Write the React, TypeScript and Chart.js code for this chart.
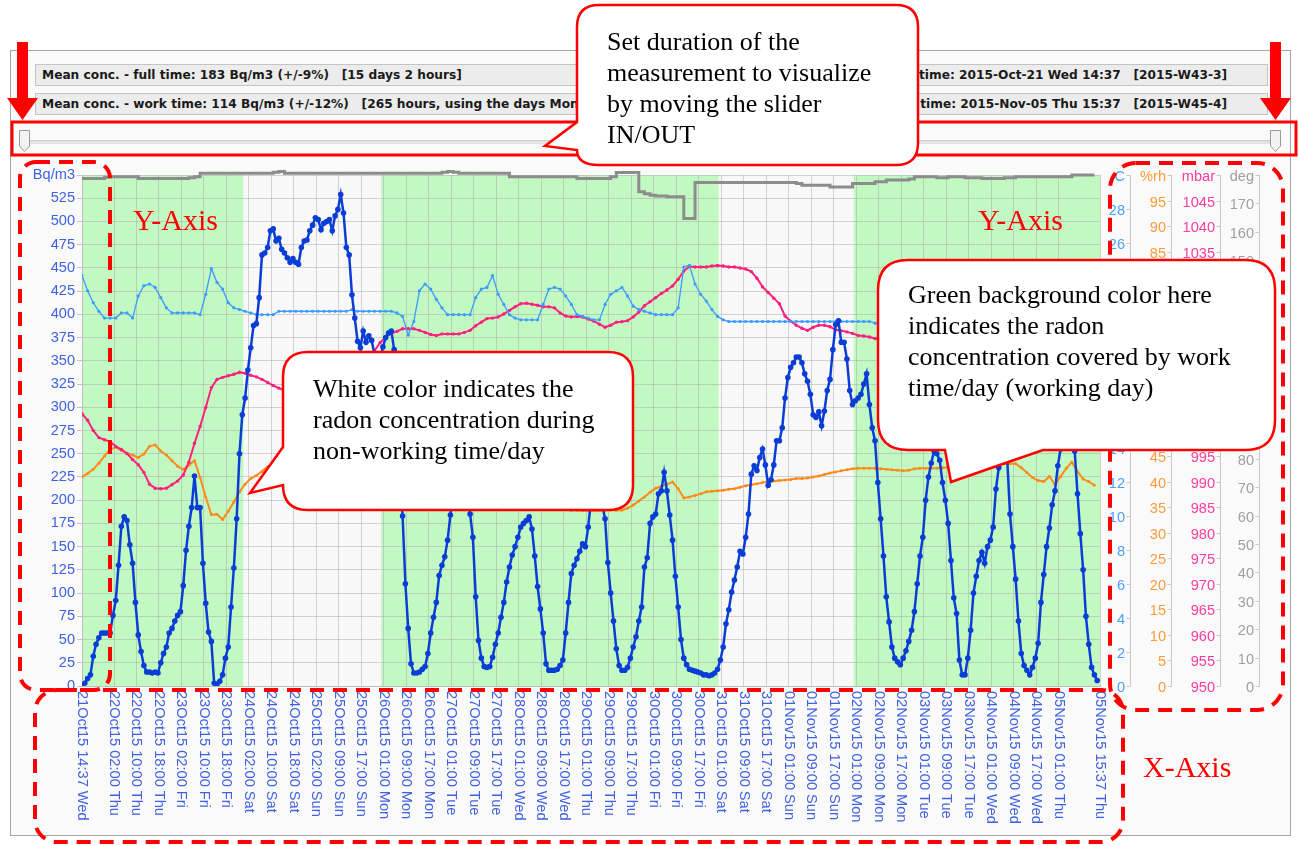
import React, { useEffect, useRef } from 'react';
import { Chart, registerables } from 'chart.js';

Chart.register(...registerables);

// Radon concentration, hourly from 2015-Oct-21 14:37 (Bq/m3)
const radonBq: number[] = [
  0, 3, 8, 12, 32, 45, 52, 57, 57, 57,
  57, 76, 92, 130, 172, 182, 178, 152, 132, 90,
  55, 37, 22, 15, 15, 14, 15, 14, 25, 35,
  42, 57, 62, 70, 76, 80, 108, 146, 172, 192,
  226, 192, 192, 132, 89, 58, 48, 3, 2, 5,
  12, 30, 42, 85, 127, 180, 250, 292, 310, 340,
  364, 388, 390, 418, 464, 466, 472, 490, 492, 479,
  482, 470, 466, 461, 456, 460, 456, 454, 472, 479,
  480, 490, 496, 504, 502, 491, 498, 500, 502, 490,
  506, 513, 529, 509, 472, 464, 421, 396, 371, 364,
  382, 370, 377, 372, 357, 353, 352, 365, 375, 380,
  382, 362, 300, 230, 183, 110, 62, 24, 14, 14,
  15, 18, 21, 35, 57, 74, 90, 119, 130, 139,
  157, 184, 210, 232, 245, 248, 240, 215, 185, 160,
  96, 49, 30, 21, 20, 21, 31, 45, 57, 74,
  90, 112, 128, 141, 150, 160, 171, 175, 178, 182,
  169, 140, 107, 83, 57, 24, 17, 17, 17, 18,
  22, 28, 57, 90, 121, 130, 137, 145, 153, 150,
  171, 200, 225, 235, 225, 195, 180, 133, 100, 70,
  40, 22, 17, 17, 20, 30, 42, 53, 70, 85,
  128, 138, 175, 182, 185, 207, 210, 230, 210, 184,
  157, 118, 85, 50, 30, 23, 18, 17, 16, 15,
  14, 12, 12, 11, 12, 14, 18, 28, 42, 67,
  82, 101, 114, 128, 145, 142, 160, 185, 228, 237,
  232, 246, 255, 238, 216, 222, 238, 264, 264, 278,
  310, 332, 343, 348, 354, 354, 348, 336, 328, 314,
  292, 289, 295, 280, 296, 318, 330, 362, 389, 393,
  370, 370, 352, 318, 303, 307, 310, 314, 325, 336,
  303, 278, 264, 219, 180, 140, 96, 69, 42, 30,
  26, 23, 30, 38, 48, 60, 80, 110, 140, 160,
  200, 225, 240, 253, 250, 243, 219, 200, 175, 135,
  95, 78, 28, 12, 12, 30, 60, 100, 118, 135,
  144, 132, 150, 157, 171, 212, 235, 248, 252, 245,
  185, 150, 115, 70, 35, 22, 17, 12, 20, 30,
  46, 90, 120, 150, 170, 195, 210, 237, 255, 262,
  265, 262, 258, 253, 207, 164, 125, 75, 45, 20,
  12, 6,
];

// Temperature every 2 hours (C)
const temperatureC: number[] = [
  24.1, 23.2, 22.5, 22.0, 21.6, 21.6, 21.6, 21.9, 21.9, 21.6,
  22.9, 23.5, 23.6, 23.4, 22.8, 22.2, 21.9, 21.9, 21.9, 21.9,
  21.9, 21.8, 23.0, 24.5, 23.7, 23.3, 22.5, 22.2, 22.1, 22.0,
  21.9, 21.8, 21.8, 21.8, 21.8, 22.0, 22.0, 22.0, 22.0, 22.0,
  22.0, 22.0, 22.0, 22.0, 22.0, 22.0, 22.0, 22.0, 22.1, 22.0,
  22.0, 22.0, 22.0, 22.0, 22.0, 22.0, 21.9, 21.7, 20.6, 21.4,
  23.2, 23.6, 23.3, 22.7, 22.2, 21.8, 21.8, 21.8, 21.8, 21.8,
  22.8, 23.3, 23.4, 24.1, 23.0, 22.4, 21.8, 21.6, 21.5, 21.5,
  21.5, 21.5, 22.4, 23.3, 23.4, 23.3, 22.9, 22.4, 21.8, 21.7,
  21.6, 21.5, 21.5, 22.4, 23.0, 23.2, 23.4, 22.9, 22.3, 22.1,
  22.0, 21.9, 21.8, 21.8, 21.8, 21.8, 22.2, 24.6, 24.7, 23.6,
  23.0, 22.6, 22.1, 21.7, 21.5, 21.4, 21.4, 21.4, 21.4, 21.4,
  21.4, 21.4, 21.4, 21.4, 21.4, 21.4, 21.4, 21.4, 21.4, 21.4,
  21.4, 21.4, 21.4, 21.4, 21.4, 21.4, 21.4, 21.4, 21.4, 21.4,
  21.4, 21.3, 21.2, 21.2, 21.2, 21.3, 21.3, 21.2, 21.2, 21.2,
  21.2, 21.3, 21.3, 21.2, 21.2, 21.2, 21.2, 21.1, 21.1, 21.2,
  21.2, 21.2, 21.3, 21.3, 21.2, 21.2, 21.1, 21.1, 21.1, 21.2,
  21.2, 21.2, 21.2, 21.1, 21.1, 21.1, 21.1, 21.2, 21.2, 21.2,
  21.2,
];

// Relative humidity every 2 hours (%rh)
const humidityRh: number[] = [
  40.9, 41.6, 42.4, 43.6, 45.0, 46.3, 46.7, 46.1, 45.5, 45.2,
  44.7, 45.4, 46.9, 47.2, 46.0, 45.2, 44.1, 43.0, 42.4, 43.2,
  44.1, 40.8, 37.0, 33.5, 33.6, 32.6, 34.2, 36.0, 38.0, 39.5,
  40.6, 41.2, 42.0, 42.9, 43.3, 43.6, 43.8, 44.0, 44.1, 44.0,
  43.8, 43.5, 43.2, 42.8, 42.4, 42.0, 41.6, 41.2, 40.8, 40.4,
  40.0, 39.7, 39.4, 39.1, 38.8, 38.5, 38.2, 38.0, 37.8, 37.6,
  37.4, 37.2, 37.0, 36.8, 36.7, 36.6, 36.5, 36.4, 36.3, 36.2,
  36.1, 36.0, 35.9, 35.8, 35.7, 35.6, 35.5, 35.4, 35.3, 35.2,
  35.1, 35.0, 34.9, 34.8, 34.7, 34.6, 34.5, 34.4, 34.4, 34.3,
  34.3, 34.3, 34.3, 34.4, 34.4, 34.4, 34.4, 34.8, 35.4, 36.2,
  37.0, 37.9, 38.7, 39.1, 39.5, 39.9, 38.6, 36.8, 37.0, 37.3,
  37.6, 38.0, 38.1, 38.2, 38.3, 38.5, 38.6, 38.9, 39.2, 39.4,
  39.6, 39.8, 40.0, 40.1, 40.2, 40.3, 40.4, 40.6, 40.6, 40.7,
  40.9, 41.1, 41.4, 41.7, 41.9, 42.1, 42.3, 42.5, 42.6, 42.6,
  42.6, 42.6, 42.5, 42.4, 42.3, 42.2, 42.1, 42.2, 42.5, 42.6,
  42.6, 42.6, 42.6, 42.7, 42.8, 42.9, 43.0, 43.0, 43.1, 43.2,
  43.2, 43.3, 43.4, 43.4, 43.5, 43.5, 43.5, 42.7, 41.8, 40.8,
  40.2, 40.0, 41.0, 39.4, 41.0, 42.6, 43.8, 42.0, 40.5, 40.0,
  39.3,
];

// Air pressure every 2 hours (mbar)
const pressureMbar: number[] = [
  1003.3, 1002.0, 1000.0, 998.6, 998.2, 997.8, 996.9, 996.3, 995.5, 994.3,
  993.3, 991.8, 989.5, 988.7, 988.6, 988.7, 989.4, 990.1, 991.3, 993.8,
  997.5, 1000.8, 1004.5, 1008.4, 1010.0, 1010.4, 1010.7, 1011.0, 1011.4, 1011.2,
  1010.8, 1010.5, 1010.0, 1009.4, 1008.8, 1008.3, 1007.8, 1007.3, 1007.0, 1006.8,
  1006.8, 1007.0, 1007.5, 1008.2, 1009.0, 1010.0, 1011.0, 1012.0, 1012.8, 1013.6,
  1014.3, 1015.0, 1015.6, 1017.2, 1018.3, 1019.0, 1019.4, 1019.9, 1019.9, 1019.9,
  1019.6, 1019.2, 1018.8, 1018.6, 1018.9, 1018.9, 1018.9, 1018.9, 1019.2, 1019.6,
  1020.5, 1021.2, 1021.9, 1022.0, 1022.2, 1022.8, 1023.5, 1024.2, 1024.8, 1024.9,
  1024.7, 1024.5, 1024.2, 1024.2, 1024.0, 1023.0, 1022.4, 1022.2, 1022.3, 1022.2,
  1021.8, 1021.4, 1020.8, 1020.2, 1020.6, 1021.2, 1021.3, 1021.5, 1022.2, 1023.2,
  1024.4, 1025.2, 1026.0, 1026.8, 1027.5, 1028.3, 1029.6, 1031.2, 1032.1, 1032.0,
  1032.0, 1032.0, 1032.2, 1032.3, 1032.2, 1032.0, 1032.0, 1031.8, 1031.6, 1031.1,
  1029.8, 1028.1, 1027.0, 1025.9, 1024.8, 1022.4, 1021.4, 1020.6, 1020.0, 1019.6,
  1020.2, 1020.6, 1020.6, 1020.3, 1019.7, 1019.5, 1019.3, 1019.0, 1018.6, 1018.5,
  1018.3, 1018.0, 1017.8, 1017.7, 1017.5, 1017.4, 1017.2, 1017.1, 1016.9, 1016.8,
  1016.7, 1016.6, 1016.4, 1016.3, 1016.1, 1016.0, 1015.9, 1015.8, 1015.7, 1015.5,
  1015.4, 1015.3, 1015.2, 1015.0, 1014.9, 1014.8, 1014.7, 1014.6, 1014.5, 1014.4,
  1014.3, 1014.2, 1014.1, 1014.0, 1013.9, 1013.8, 1013.8, 1013.7, 1013.6, 1013.5,
  1013.4,
];

// Angle sensor every 2 hours (deg)
const angleDeg: number[] = [
  178.8, 178.8, 178.8, 178.8, 179.2, 179.4, 179.4, 179.4, 179.4, 179.4,
  178.8, 178.8, 178.8, 178.8, 178.8, 178.8, 178.8, 178.8, 178.8, 179.0,
  179.4, 180.6, 180.6, 180.6, 180.6, 180.6, 180.6, 180.6, 180.6, 180.6,
  180.6, 180.6, 180.6, 180.6, 181.0, 181.2, 180.6, 180.6, 180.6, 180.6,
  180.6, 180.6, 180.6, 180.6, 180.6, 180.6, 180.6, 180.6, 180.6, 180.6,
  180.6, 180.6, 180.6, 180.6, 180.6, 180.6, 180.6, 180.6, 180.6, 180.6,
  180.6, 180.6, 180.6, 180.6, 181.0, 181.2, 181.0, 180.6, 180.6, 180.6,
  180.6, 180.6, 180.6, 180.6, 180.6, 180.6, 179.4, 179.4, 179.4, 179.4,
  179.4, 179.4, 179.4, 179.4, 179.4, 179.4, 179.4, 179.4, 178.8, 178.8,
  178.8, 178.8, 178.8, 178.8, 179.4, 180.9, 180.9, 180.9, 180.9, 174.1,
  173.4, 172.9, 172.6, 172.6, 172.3, 172.3, 172.3, 164.7, 164.7, 177.4,
  177.4, 177.4, 177.4, 177.4, 177.4, 177.4, 177.4, 177.4, 177.4, 177.4,
  177.4, 177.4, 177.4, 177.4, 177.4, 177.4, 177.4, 177.0, 176.4, 176.4,
  176.4, 176.4, 176.4, 175.8, 175.8, 175.8, 175.8, 177.0, 177.0, 177.0,
  177.0, 177.6, 177.6, 178.2, 178.2, 178.2, 178.2, 178.6, 179.4, 179.4,
  179.4, 179.4, 179.0, 179.0, 179.4, 179.4, 179.4, 179.0, 179.0, 179.0,
  178.8, 178.8, 178.8, 178.8, 179.0, 179.0, 179.4, 179.4, 179.4, 179.4,
  179.4, 179.4, 179.4, 179.4, 179.4, 179.4, 180.0, 180.0, 180.0, 180.0,
  180.0,
];

// X axis: hours since start, with their labels
const xTickHours: number[] = [
  0, 11.38, 19.38, 27.38, 35.38, 43.38, 51.38, 59.38, 67.38, 75.38,
  83.38, 91.38, 99.38, 107.38, 115.38, 123.38, 131.38, 139.38, 147.38, 155.38,
  163.38, 171.38, 179.38, 187.38, 195.38, 203.38, 211.38, 219.38, 227.38, 235.38,
  243.38, 251.38, 259.38, 267.38, 275.38, 283.38, 291.38, 299.38, 307.38, 315.38,
  323.38, 331.38, 339.38, 347.38, 362,
];
const xTickLabels: string[] = [
  '21Oct15 14:37 Wed', '22Oct15 02:00 Thu', '22Oct15 10:00 Thu', '22Oct15 18:00 Thu',
  '23Oct15 02:00 Fri', '23Oct15 10:00 Fri', '23Oct15 18:00 Fri',
  '24Oct15 02:00 Sat', '24Oct15 10:00 Sat', '24Oct15 18:00 Sat',
  '25Oct15 02:00 Sun', '25Oct15 09:00 Sun', '25Oct15 17:00 Sun',
  '26Oct15 01:00 Mon', '26Oct15 09:00 Mon', '26Oct15 17:00 Mon',
  '27Oct15 01:00 Tue', '27Oct15 09:00 Tue', '27Oct15 17:00 Tue',
  '28Oct15 01:00 Wed', '28Oct15 09:00 Wed', '28Oct15 17:00 Wed',
  '29Oct15 01:00 Thu', '29Oct15 09:00 Thu', '29Oct15 17:00 Thu',
  '30Oct15 01:00 Fri', '30Oct15 09:00 Fri', '30Oct15 17:00 Fri',
  '31Oct15 01:00 Sat', '31Oct15 09:00 Sat', '31Oct15 17:00 Sat',
  '01Nov15 01:00 Sun', '01Nov15 09:00 Sun', '01Nov15 17:00 Sun',
  '02Nov15 01:00 Mon', '02Nov15 09:00 Mon', '02Nov15 17:00 Mon',
  '03Nov15 01:00 Tue', '03Nov15 09:00 Tue', '03Nov15 17:00 Tue',
  '04Nov15 01:00 Wed', '04Nov15 09:00 Wed', '04Nov15 17:00 Wed',
  '05Nov15 01:00 Thu', '05Nov15 15:37 Thu',
];

// Working-day periods (hours since start)
const workStart: number[] = [0, 106.38, 274.38];
const workEnd: number[] = [57.38, 226.38, 362];

const SANS = '"Liberation Sans", Arial, sans-serif';
const AXIS_FONT = 14.6;
const AXIS_BLUE = '#4062e2';
const GRID = 'rgba(170,170,170,0.5)';

const rightAxes = [
  { id: 'yC', title: 'C', color: '#4aa0ff' },
  { id: 'yRh', title: '%rh', color: '#ff9a3a' },
  { id: 'yMbar', title: 'mbar', color: '#ff3d9e' },
  { id: 'yDeg', title: 'deg', color: '#a0a0a0' },
];

const backgroundPlugin = {
  id: 'bands',
  beforeDraw(chart: any) {
    const { ctx, chartArea: a } = chart;
    const xs = chart.scales.x;
    ctx.save();
    ctx.fillStyle = '#f8f8f8';
    ctx.fillRect(a.left, a.top, a.right - a.left, a.bottom - a.top);
    ctx.fillStyle = '#c2f9c2';
    workStart.forEach((s, i) => {
      const x0 = xs.getPixelForValue(s);
      const x1 = xs.getPixelForValue(workEnd[i]);
      ctx.fillRect(x0, a.top, x1 - x0, a.bottom - a.top);
    });
    ctx.restore();
  },
};

const axisDecorPlugin = {
  id: 'axisDecor',
  afterDraw(chart: any) {
    const { ctx, chartArea: a } = chart;
    ctx.save();
    ctx.font = `${AXIS_FONT}px ${SANS}`;
    ctx.lineWidth = 1;
    for (const ax of rightAxes) {
      const s = chart.scales[ax.id];
      const lx = Math.round(s.right - 4) + 0.5;
      ctx.strokeStyle = '#c8c8c8';
      ctx.beginPath();
      ctx.moveTo(lx, a.top);
      ctx.lineTo(lx, a.bottom);
      ctx.stroke();
      ctx.fillStyle = ax.color;
      ctx.textAlign = 'right';
      ctx.textBaseline = 'middle';
      for (const t of s.ticks) {
        const y = Math.round(s.getPixelForValue(t.value)) + 0.5;
        ctx.beginPath();
        ctx.moveTo(lx - 4, y);
        ctx.lineTo(lx, y);
        ctx.stroke();
        ctx.fillText(t.value === s.max ? ax.title : String(t.value), s.right - 9, y + 1);
      }
    }
    const xs = chart.scales.x;
    ctx.fillStyle = AXIS_BLUE;
    ctx.textAlign = 'left';
    ctx.textBaseline = 'middle';
    xTickHours.forEach((h, i) => {
      const x = xs.getPixelForValue(h);
      ctx.save();
      ctx.translate(x, a.bottom + 5);
      ctx.rotate(Math.PI / 2);
      ctx.fillText(xTickLabels[i], 0, 0);
      ctx.restore();
    });
    ctx.restore();
  },
};

function RadonChart() {
  const ref = useRef<HTMLCanvasElement | null>(null);
  useEffect(() => {
    if (!ref.current) return;
    const hourly = (arr: number[]) => arr.map((v, i) => ({ x: i, y: v }));
    const twoHourly = (arr: number[]) => arr.map((v, i) => ({ x: i * 2, y: v }));
    const chart = new Chart(ref.current, {
      type: 'line',
      data: {
        datasets: [
          {
            label: 'Radon', data: hourly(radonBq), yAxisID: 'y', order: 0,
            borderColor: '#0a3dd6', backgroundColor: '#0a3dd6', borderWidth: 2.5,
            pointRadius: 2.8, pointBorderWidth: 0, tension: 0,
          },
          {
            label: 'Temperature', data: twoHourly(temperatureC), yAxisID: 'yC', order: 1,
            borderColor: '#3a9cff', backgroundColor: '#3a9cff', borderWidth: 1.3,
            pointRadius: 1.6, pointBorderWidth: 0, tension: 0,
          },
          {
            label: 'Pressure', data: twoHourly(pressureMbar), yAxisID: 'yMbar', order: 2,
            borderColor: '#ff1f7d', backgroundColor: '#ff1f7d', borderWidth: 2,
            pointRadius: 1.7, pointBorderWidth: 0, tension: 0,
          },
          {
            label: 'Humidity', data: twoHourly(humidityRh), yAxisID: 'yRh', order: 3,
            borderColor: '#ff8a1c', backgroundColor: '#ff8a1c', borderWidth: 2,
            pointRadius: 1.5, pointBorderWidth: 0, tension: 0,
          },
          {
            label: 'Angle', data: twoHourly(angleDeg), yAxisID: 'yDeg', order: 4,
            borderColor: '#8c8c8c', backgroundColor: '#8c8c8c', borderWidth: 3,
            pointRadius: 0, stepped: true, tension: 0, clip: 10,
          },
        ],
      },
      options: {
        animation: false,
        responsive: false,
        devicePixelRatio: 1,
        events: [],
        layout: { padding: { left: 0, right: 27, top: 15, bottom: 0 } },
        plugins: { legend: { display: false }, tooltip: { enabled: false } },
        scales: {
          x: {
            type: 'linear', min: 0, max: 362,
            afterBuildTicks: (s: any) => { s.ticks = xTickHours.map((v) => ({ value: v })); },
            ticks: { display: false },
            grid: { color: GRID, drawTicks: false },
            border: { color: '#bdbdbd' },
            afterFit: (s: any) => { s.height = 160; },
          },
          y: {
            position: 'left', min: 0, max: 550,
            ticks: {
              stepSize: 25, autoSkip: false, color: AXIS_BLUE, padding: 2,
              font: { family: SANS, size: AXIS_FONT },
              callback: (v: any) => (v === 550 ? 'Bq/m3' : String(v)),
            },
            grid: { color: GRID, tickLength: 5, tickColor: '#c4c4c4' },
            border: { color: '#bdbdbd' },
            afterFit: (s: any) => { s.width = 62; },
          },
          yC: {
            position: 'right', min: 0, max: 30,
            ticks: { stepSize: 2, display: false },
            grid: { display: false }, border: { display: false },
            afterFit: (s: any) => { s.width = 34; },
          },
          yRh: {
            position: 'right', min: 0, max: 100,
            ticks: { stepSize: 5, display: false },
            grid: { display: false }, border: { display: false },
            afterFit: (s: any) => { s.width = 41; },
          },
          yMbar: {
            position: 'right', min: 950, max: 1050,
            ticks: { stepSize: 5, display: false },
            grid: { display: false }, border: { display: false },
            afterFit: (s: any) => { s.width = 49; },
          },
          yDeg: {
            position: 'right', min: 0, max: 180,
            ticks: { stepSize: 10, display: false },
            grid: { display: false }, border: { display: false },
            afterFit: (s: any) => { s.width = 39; },
          },
        },
      } as any,
      plugins: [backgroundPlugin, axisDecorPlugin],
    });
    return () => chart.destroy();
  }, []);
  return (
    <canvas
      ref={ref}
      width={1270}
      height={686}
      style={{ position: 'absolute', left: 20, top: 160, width: 1270, height: 686, zIndex: 1 }}
    />
  );
}

const boxStyle: React.CSSProperties = {
  position: 'absolute', height: 22, boxSizing: 'border-box', background: '#ececec',
  border: '1px solid #c4c4c4', font: 'bold 12.2px "DejaVu Sans", Verdana, sans-serif',
  color: '#1a1a1a', lineHeight: '20px', whiteSpace: 'pre', overflow: 'hidden',
};

const SERIF = '"Liberation Serif", "Times New Roman", serif';
const calloutText: React.CSSProperties = {
  position: 'absolute', font: `26px ${SERIF}`, lineHeight: '31px', color: '#000',
  whiteSpace: 'pre', zIndex: 4,
};
const redLabel: React.CSSProperties = {
  position: 'absolute', font: `30px ${SERIF}`, lineHeight: '30px', color: '#ff0000',
  whiteSpace: 'pre', zIndex: 4,
};

export default function App() {
  const dash = { fill: 'none', stroke: '#ff0000', strokeWidth: 4, strokeDasharray: '14 9' };
  const callout = { fill: '#ffffff', stroke: '#ff0000', strokeWidth: 2.5 };
  return (
    <div style={{ position: 'absolute', left: 0, top: 0, width: 1299, height: 846, background: '#fff', overflow: 'hidden', fontFamily: SANS }}>
      <div style={{ position: 'absolute', left: 10, top: 50, width: 1281, height: 786, boxSizing: 'border-box', border: '1px solid #a5a5a5', background: '#fafafa' }} />
      <div style={{ ...boxStyle, left: 35, top: 64, width: 640, paddingLeft: 6 }}>
        {'Mean conc. - full time: 183 Bq/m3 (+/-9%)   [15 days 2 hours]'}
      </div>
      <div style={{ ...boxStyle, left: 35, top: 93, width: 640, paddingLeft: 6 }}>
        {'Mean conc. - work time: 114 Bq/m3 (+/-12%)   [265 hours, using the days Mon-Fri]'}
      </div>
      <div style={{ ...boxStyle, left: 680, top: 64, width: 588, textAlign: 'right', paddingRight: 40 }}>
        {'Start time: 2015-Oct-21 Wed 14:37   [2015-W43-3]'}
      </div>
      <div style={{ ...boxStyle, left: 680, top: 93, width: 588, textAlign: 'right', paddingRight: 40 }}>
        {'End time: 2015-Nov-05 Thu 15:37   [2015-W45-4]'}
      </div>
      <div style={{ position: 'absolute', left: 22, top: 140, width: 1256, height: 3, background: '#e2e2e2', borderTop: '1px solid #cdcdcd' }} />
      <RadonChart />
      <svg width={1299} height={846} style={{ position: 'absolute', left: 0, top: 0, zIndex: 3, pointerEvents: 'none' }}>
        <path d="M19.5,130.5 H29.5 V146 L24.5,151.5 L19.5,146 Z" fill="#f2f2f2" stroke="#9a9a9a" strokeWidth={1} />
        <path d="M1270.5,130.5 H1280.5 V146 L1275.5,151.5 L1270.5,146 Z" fill="#f2f2f2" stroke="#9a9a9a" strokeWidth={1} />
        <rect x={20} y={162} width={90} height={528} rx={16} {...dash} />
        <rect x={1110} y={163} width={173} height={547} rx={26} {...dash} />
        <rect x={35} y={690} width={1088} height={152} rx={22} {...dash} />
        <rect x={12} y={122} width={1284} height={33} fill="none" stroke="#ff0000" strokeWidth={3} />
        <path d="M17,42 H28 V98 H38 L22.5,120 L7,98 H17 Z" fill="#ff0000" />
        <path d="M1270,42 H1281 V98 H1291 L1275.5,120 L1260,98 H1270 Z" fill="#ff0000" />
        <path d="M599,5 H896 Q918,5 918,27 V143 Q918,165 896,165 H599 Q577,165 577,150 L545,146 L577,122 V27 Q577,5 599,5 Z" {...callout} />
        <path d="M308,352 H608 Q633,352 633,377 V485 Q633,510 608,510 H308 Q283,510 283,485 L250,493 L283,447 V377 Q283,352 308,352 Z" {...callout} />
        <path d="M908,260 H1245 Q1275,260 1275,290 V420 Q1275,450 1245,450 H1043 L951,482 L945,450 H908 Q878,450 878,420 V290 Q878,260 908,260 Z" {...callout} />
      </svg>
      <div style={{ ...calloutText, left: 607, top: 26 }}>
        {'Set duration of the\nmeasurement to visualize\nby moving the slider\nIN/OUT'}
      </div>
      <div style={{ ...calloutText, left: 313, top: 373 }}>
        {'White color indicates the\nradon concentration during\nnon-working time/day'}
      </div>
      <div style={{ ...calloutText, left: 908, top: 279 }}>
        {'Green background color here\nindicates the radon\nconcentration covered by work\ntime/day (working day)'}
      </div>
      <div style={{ ...redLabel, left: 133, top: 205 }}>Y-Axis</div>
      <div style={{ ...redLabel, left: 978, top: 205 }}>Y-Axis</div>
      <div style={{ ...redLabel, left: 1143, top: 752 }}>X-Axis</div>
    </div>
  );
}
